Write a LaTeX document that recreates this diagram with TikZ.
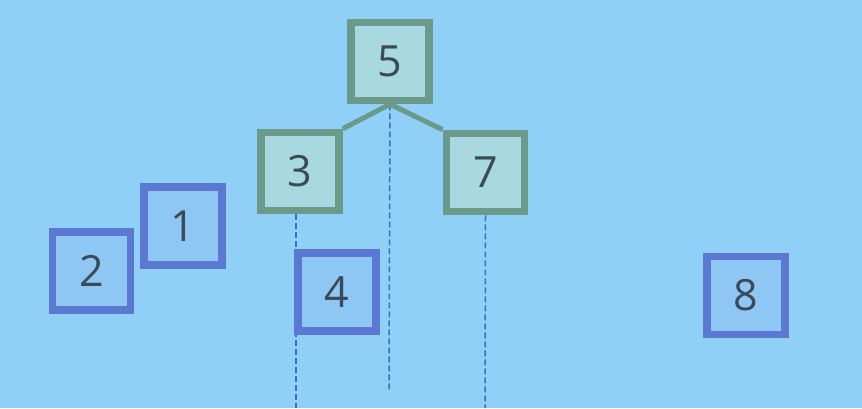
\documentclass[tikz,border=0pt]{standalone}
\usepackage{fontspec}
\setmainfont{Open Sans}
\definecolor{bg}{HTML}{90D0F6}
\definecolor{bluebd}{HTML}{5B79D2}
\definecolor{bluefill}{HTML}{8EC6F4}
\definecolor{greenbd}{HTML}{6A9A8A}
\definecolor{greenfill}{HTML}{A8D9E0}
\definecolor{txt}{HTML}{3C4A58}
\definecolor{dash}{HTML}{3E6CC8}
\tikzset{
  box/.style={draw, line width=7.5pt, minimum size=78pt, inner sep=0pt, text=txt, font=\fontsize{43}{43}\selectfont},
  bluebox/.style={box, draw=bluebd, fill=bluefill},
  greenbox/.style={box, draw=greenbd, fill=greenfill},
  treeedge/.style={draw=greenbd, line width=5pt},
  guide/.style={draw=dash, line width=1.5pt, dash pattern=on 6pt off 3pt}
}
\begin{document}
\begin{tikzpicture}[x=1pt,y=-1pt]
\fill[bg] (0,0) rectangle (862,408);
\useasboundingbox (0,0) rectangle (862,408);
\coordinate (e5) at (389,390);
\coordinate (e3) at (296,408);
\coordinate (e7) at (485,408);
\node[greenbox] (n5) at (390,61.5) {5};
\node[greenbox] (n3) at (300,171.5) {3};
\node[greenbox] (n7) at (485.5,172.5) {7};
\draw[guide] (n5.south) -- (e5);
\draw[guide] (n3.south -| e3) -- (e3);
\draw[guide] (n7.south) -- (e7);
\draw[treeedge] (n5.south) -- (n3.north east);
\draw[treeedge] (n5.south) -- (n7.north west);
\node[greenbox] at (390,61.5) {5};
\node[bluebox] (n1) at (183,226) {1};
\node[bluebox] (n2) at (91.5,271) {2};
\node[bluebox] (n4) at (337,292) {4};
\node[bluebox] (n8) at (746,295.5) {8};
\end{tikzpicture}
\end{document}
